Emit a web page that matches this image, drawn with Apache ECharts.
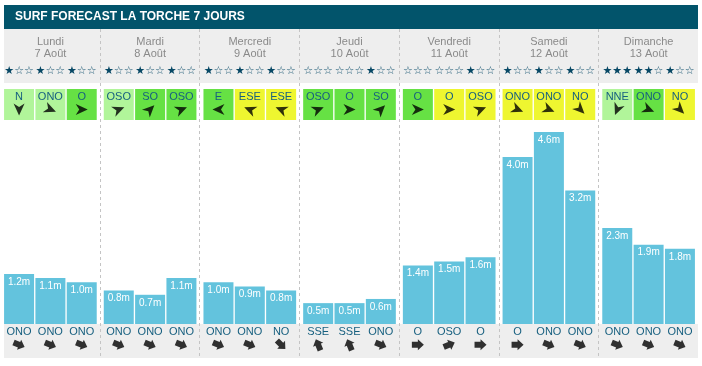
<!DOCTYPE html>
<html><head><meta charset="utf-8">
<script src="https://cdn.jsdelivr.net/npm/echarts@6/dist/echarts.min.js"></script>
<style>html,body{margin:0;padding:0;background:#fff}#c{width:702px;height:366px}</style>
</head><body><div id="c"></div>
<script>
// ---------- data ----------
const chartTitle = 'SURF FORECAST LA TORCHE 7 JOURS';
const days = ['Lundi', 'Mardi', 'Mercredi', 'Jeudi', 'Vendredi', 'Samedi', 'Dimanche'];
const dates = ['7 Août', '8 Août', '9 Août', '10 Août', '11 Août', '12 Août', '13 Août'];
const stars = [[1,1,1],[1,1,1],[1,1,1],[0,0,1],[0,0,1],[1,1,1],[3,2,1]];
const windDir = [['N','ONO','O'],['OSO','SO','OSO'],['E','ESE','ESE'],['OSO','O','SO'],['O','O','OSO'],['ONO','ONO','NO'],['NNE','ONO','NO']];
const windLevel = [[0,0,1],[0,1,1],[1,2,2],[1,1,1],[1,2,2],[2,2,2],[0,1,2]];
const waveHeight = [[1.2,1.1,1.0],[0.8,0.7,1.1],[1.0,0.9,0.8],[0.5,0.5,0.6],[1.4,1.5,1.6],[4.0,4.6,3.2],[2.3,1.9,1.8]];
const swellDir = [['ONO','ONO','ONO'],['ONO','ONO','ONO'],['ONO','ONO','NO'],['SSE','SSE','ONO'],['O','OSO','O'],['O','ONO','ONO'],['ONO','ONO','ONO']];

// ---------- styling ----------
const compass = {N:0,NNE:22.5,NE:45,ENE:67.5,E:90,ESE:112.5,SE:135,SSE:157.5,S:180,SSO:202.5,SO:225,OSO:247.5,O:270,ONO:292.5,NO:315,NNO:337.5};
const windColors = ['#b1f59a', '#66e144', '#eef630'];
const FONT = '"Liberation Sans", Arial, sans-serif';
const TEAL = '#165f7f';
const X0 = 3.4, PITCH = 99.7, DAYW = 94;
const windArrow = 'path://M0,0 L5,12 L0,8.5 L-5,12 Z';
const swellArrow = 'path://M0,0 L6,6 L3.2,6 L3.2,12 L-3.2,12 L-3.2,6 L-6,6 Z';

const chart = echarts.init(document.getElementById('c'), null, {renderer: 'canvas'});
const grid = [], xAxis = [], yAxis = [], series = [];
const maxWave = Math.max(...waveHeight.flat());
const slots = ['0', '1', '2'];
const hidden = {axisLine:{show:false}, axisTick:{show:false}, axisLabel:{show:false}, splitLine:{show:false}};

days.forEach((day, d) => {
  const left = X0 + d * PITCH;
  const gW = grid.push({left, top: 89, width: DAYW, height: 31}) - 1;
  const gV = grid.push({left, top: 132, width: DAYW, height: 192}) - 1;
  const gS = grid.push({left, top: 324, width: DAYW, height: 34}) - 1;

  const xW = xAxis.push(Object.assign({type:'category', gridIndex:gW, data:slots, z:5}, hidden)) - 1;
  // stars
  xAxis.push(Object.assign({}, hidden, {type:'category', gridIndex:gW, position:'top', data:slots, z:5,
    axisLabel:{show:true, interval:0, margin:12, fontSize:11, fontFamily:'DejaVu Sans',
      formatter:(v, i) => '{f|' + '★'.repeat(stars[d][i]) + '}{e|' + '☆'.repeat(3 - stars[d][i]) + '}',
      rich:{f:{color:'#074865', fontSize:11, fontFamily:'DejaVu Sans'}, e:{color:'#1f5b76', fontSize:11, fontFamily:'DejaVu Sans'}}}}));
  // day name
  xAxis.push(Object.assign({}, hidden, {type:'category', gridIndex:gW, position:'top', data:[day + '\n' + dates[d]], z:5,
    axisLabel:{show:true, interval:0, margin:29, fontSize:11, lineHeight:12, color:'#8a8a8a', fontFamily:FONT}}));
  const yW = yAxis.push(Object.assign({type:'value', gridIndex:gW, min:0, max:1}, hidden)) - 1;

  const xV = xAxis.push(Object.assign({}, hidden, {type:'category', gridIndex:gV, data:slots, z:5,
    axisLabel:{show:true, interval:0, margin:2, fontSize:11, color:TEAL, fontFamily:FONT,
      formatter:(v, i) => swellDir[d][i]}})) - 1;
  const yV = yAxis.push(Object.assign({type:'value', gridIndex:gV, min:0, max:maxWave}, hidden)) - 1;

  const xS = xAxis.push(Object.assign({type:'category', gridIndex:gS, data:slots}, hidden)) - 1;
  const yS = yAxis.push(Object.assign({type:'value', gridIndex:gS, min:0, max:1}, hidden)) - 1;

  series.push({
    type:'bar', xAxisIndex:xW, yAxisIndex:yW, barWidth:30, silent:true,
    data: windDir[d].map((t, i) => ({value:1, itemStyle:{color:windColors[windLevel[d][i]]}})),
    label:{show:true, position:'insideTop', distance:2.5, fontSize:11, color:TEAL, fontFamily:FONT,
      formatter:p => windDir[d][p.dataIndex]}
  });
  series.push({
    type:'scatter', xAxisIndex:xW, yAxisIndex:yW, symbol:windArrow, symbolSize:[11,12], silent:true, z:4,
    itemStyle:{color:'#000'},
    data: windDir[d].map((t, i) => ({value:[i, 0.34], symbolRotate: -(compass[t] + 180)}))
  });
  series.push({
    type:'bar', xAxisIndex:xV, yAxisIndex:yV, barWidth:30, silent:true,
    itemStyle:{color:'#63c3dd'},
    data: waveHeight[d],
    label:{show:true, position:'insideTop', distance:3, fontSize:10, color:'#fff', fontFamily:FONT,
      formatter:p => p.value.toFixed(1) + 'm'}
  });
  series.push({
    type:'scatter', xAxisIndex:xS, yAxisIndex:yS, symbol:swellArrow, symbolSize:[11,12], silent:true, z:4,
    itemStyle:{color:'#000'},
    data: swellDir[d].map((t, i) => ({value:[i, 0.39], symbolRotate: -(compass[t] + 180)}))
  });
});

const graphics = [
  {type:'rect', z:-1, shape:{x:4, y:5, width:694, height:24}, style:{fill:'#02546b'}},
  {type:'rect', z:-1, shape:{x:4, y:29, width:694, height:54}, style:{fill:'#eeeeee'}},
  {type:'rect', z:-1, shape:{x:4, y:324, width:694, height:34}, style:{fill:'#eeeeee'}}
];
for (let k = 1; k < days.length; k++) {
  const x = Math.floor(0.5 + k * PITCH) + 0.5;
  graphics.push({type:'line', z:0, shape:{x1:x, y1:29, x2:x, y2:358}, style:{stroke:'#c4c4c4', lineWidth:1, lineDash:[3,3]}});
}

chart.setOption({
  animation:false,
  title:{text:chartTitle, left:15, top:11, padding:0,
    textStyle:{color:'#fff', fontSize:12, fontWeight:'bold', fontFamily:FONT}},
  graphic:graphics,
  grid, xAxis, yAxis, series
});
</script></body></html>
